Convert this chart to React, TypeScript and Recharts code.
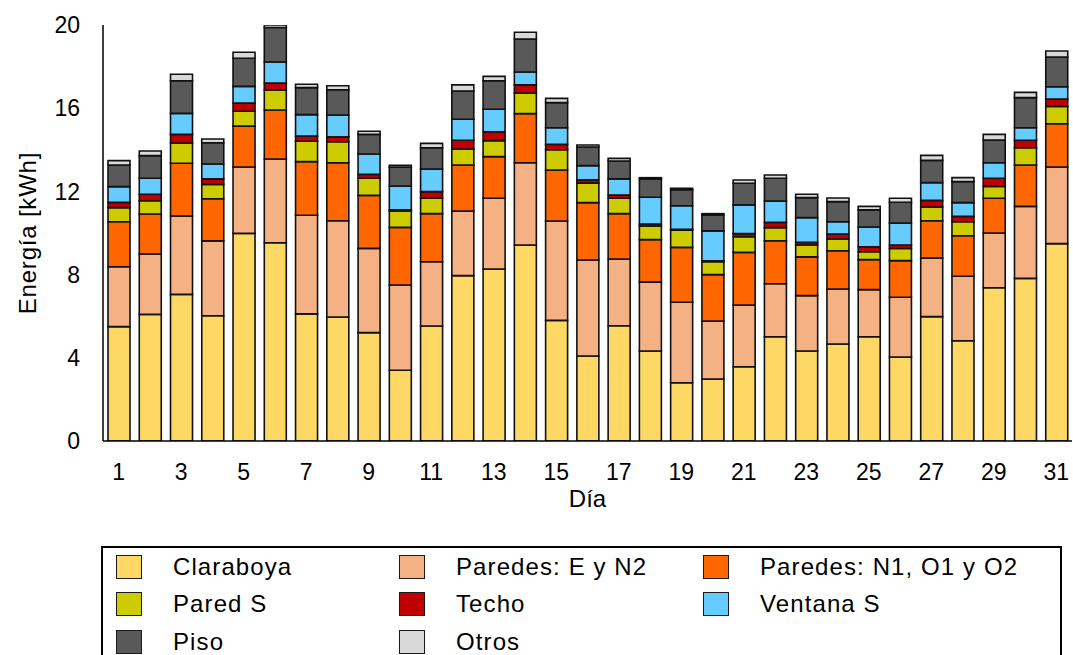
import { BarChart, Bar, XAxis, YAxis, Legend, Label } from "recharts";

// Daily energy breakdown by building element, kWh
const DAYS = Array.from({ length: 31 }, (_, i) => String(i + 1));

const claraboya = [5.5, 6.09, 7.05, 6.02, 9.98, 9.53, 6.11, 5.96, 5.21, 3.4, 5.53, 7.95, 8.27, 9.42, 5.8, 4.09, 5.54, 4.33, 2.8, 2.98, 3.57, 5.01, 4.33, 4.66, 5.01, 4.04, 5.98, 4.82, 7.37, 7.82, 9.49];
const paredesEN2 = [2.88, 2.9, 3.77, 3.6, 3.19, 4.03, 4.74, 4.63, 4.05, 4.1, 3.09, 3.11, 3.4, 3.96, 4.78, 4.61, 3.21, 3.31, 3.87, 2.79, 2.97, 2.55, 2.66, 2.65, 2.27, 2.87, 2.82, 3.1, 2.63, 3.46, 3.68];
const paredesN1O1O2 = [2.16, 1.92, 2.53, 2.03, 1.97, 2.35, 2.58, 2.79, 2.55, 2.77, 2.31, 2.21, 2.0, 2.36, 2.45, 2.76, 2.18, 2.04, 2.64, 2.23, 2.53, 2.07, 1.86, 1.84, 1.44, 1.76, 1.79, 1.95, 1.67, 1.99, 2.08];
const paredS = [0.68, 0.64, 0.98, 0.69, 0.71, 0.97, 0.98, 1.01, 0.82, 0.79, 0.74, 0.77, 0.77, 0.99, 0.97, 0.94, 0.74, 0.66, 0.83, 0.62, 0.75, 0.63, 0.57, 0.56, 0.38, 0.59, 0.66, 0.67, 0.57, 0.83, 0.84];
const techo = [0.25, 0.31, 0.41, 0.26, 0.4, 0.33, 0.25, 0.23, 0.19, 0.05, 0.32, 0.42, 0.43, 0.39, 0.26, 0.16, 0.16, 0.09, 0.04, 0.04, 0.15, 0.25, 0.13, 0.24, 0.24, 0.16, 0.32, 0.26, 0.39, 0.36, 0.35];
const ventanaS = [0.76, 0.77, 1.01, 0.72, 0.8, 1.01, 1.03, 1.05, 0.98, 1.15, 1.09, 1.01, 1.08, 0.62, 0.8, 0.68, 0.77, 1.29, 1.13, 1.44, 1.38, 1.03, 1.19, 0.59, 0.95, 1.06, 0.85, 0.66, 0.75, 0.6, 0.59];
const piso = [1.04, 1.09, 1.57, 1.02, 1.35, 1.66, 1.3, 1.22, 0.94, 0.9, 1.02, 1.36, 1.37, 1.59, 1.21, 0.89, 0.86, 0.88, 0.77, 0.77, 1.04, 1.09, 0.96, 0.97, 0.82, 1.0, 1.07, 1.01, 1.09, 1.45, 1.43];
const otros = [0.21, 0.22, 0.31, 0.18, 0.29, 0.3, 0.16, 0.19, 0.15, 0.09, 0.21, 0.29, 0.21, 0.32, 0.2, 0.1, 0.13, 0.06, 0.07, 0.06, 0.16, 0.16, 0.16, 0.17, 0.17, 0.19, 0.24, 0.19, 0.27, 0.25, 0.29];

const Y_TICKS = [0, 4, 8, 12, 16, 20];

const SERIES = [
  { key: "claraboya", name: "Claraboya", color: "#FDD865", values: claraboya },
  { key: "paredesEN2", name: "Paredes: E y N2", color: "#F4B183", values: paredesEN2 },
  { key: "paredesN1O1O2", name: "Paredes: N1, O1 y O2", color: "#FF6600", values: paredesN1O1O2 },
  { key: "paredS", name: "Pared S", color: "#CCCC00", values: paredS },
  { key: "techo", name: "Techo", color: "#C00000", values: techo },
  { key: "ventanaS", name: "Ventana S", color: "#66CCFF", values: ventanaS },
  { key: "piso", name: "Piso", color: "#595959", values: piso },
  { key: "otros", name: "Otros", color: "#D9D9D9", values: otros },
];

const rows = DAYS.map((day, i) => {
  const row: Record<string, string | number> = { day };
  SERIES.forEach((s) => {
    row[s.key] = s.values[i];
  });
  return row;
});

const FONT = '"Liberation Sans", Arial, sans-serif';
const COL_LEFT = [13, 296, 600];

function LegendBox() {
  return (
    <div
      style={{
        position: "relative",
        width: "100%",
        height: "100%",
        border: "2px solid #000",
        boxSizing: "border-box",
        background: "#fff",
        fontFamily: FONT,
      }}
    >
      {SERIES.map((s, i) => {
        const col = i % 3;
        const row = Math.floor(i / 3);
        return (
          <div
            key={s.key}
            style={{
              position: "absolute",
              left: COL_LEFT[col],
              top: 5 + row * 37.5,
              display: "flex",
              alignItems: "center",
              height: 27,
            }}
          >
            <span
              style={{
                display: "inline-block",
                width: 24,
                height: 22,
                background: s.color,
                border: "1.5px solid #1a1a1a",
              }}
            />
            <span style={{ marginLeft: 31, fontSize: 24, color: "#000", letterSpacing: 1.1 }}>{s.name}</span>
          </div>
        );
      })}
    </div>
  );
}

export default function App() {
  return (
    <div style={{ position: "relative", width: 1073, height: 655, overflow: "hidden", background: "#fff" }}>
      <style>{`body{margin:0}`}</style>
      <BarChart
        width={1073}
        height={655}
        data={rows}
        margin={{ top: 25, right: 1, left: 0, bottom: 154 }}
        barSize={22}
      >
        <XAxis
          dataKey="day"
          interval={1}
          tickLine={false}
          tickMargin={17}
          axisLine={{ stroke: "#000", strokeWidth: 1.5 }}
          tick={{ fill: "#000", fontSize: 23, fontFamily: FONT }}
          height={60}
        >
          <Label value="Día" position="insideTop" offset={49} style={{ fill: "#000", fontSize: 24, fontFamily: FONT }} />
        </XAxis>
        <XAxis
          xAxisId="top"
          orientation="top"
          dataKey="day"
          height={0}
          tick={false}
          tickLine={false}
          axisLine={{ stroke: "#333", strokeWidth: 1.5 }}
        />
        <YAxis
          domain={[0, 20]}
          ticks={Y_TICKS}
          allowDataOverflow
          width={103}
          tickLine={false}
          tickMargin={17}
          axisLine={{ stroke: "#000", strokeWidth: 1.5 }}
          tick={{ fill: "#000", fontSize: 23, fontFamily: FONT }}
        >
          <Label
            value="Energía [kWh]"
            angle={-90}
            position="insideLeft"
            offset={27}
            style={{ fill: "#000", fontSize: 24, fontFamily: FONT, textAnchor: "middle", letterSpacing: 0.8 }}
          />
        </YAxis>
        <YAxis
          yAxisId="right"
          orientation="right"
          width={0}
          tick={false}
          tickLine={false}
          axisLine={{ stroke: "#333", strokeWidth: 1.5 }}
        />
        {SERIES.map((s) => (
          <Bar
            key={s.key}
            dataKey={s.key}
            name={s.name}
            stackId="total"
            fill={s.color}
            stroke="#111"
            strokeWidth={1.6}
            isAnimationActive={false}
          />
        ))}
        <Legend
          layout="horizontal"
          verticalAlign="middle"
          align="center"
          wrapperStyle={{ position: "absolute", left: 101, top: 546, width: 961, height: 120 }}
          content={() => <LegendBox />}
        />
      </BarChart>
    </div>
  );
}
